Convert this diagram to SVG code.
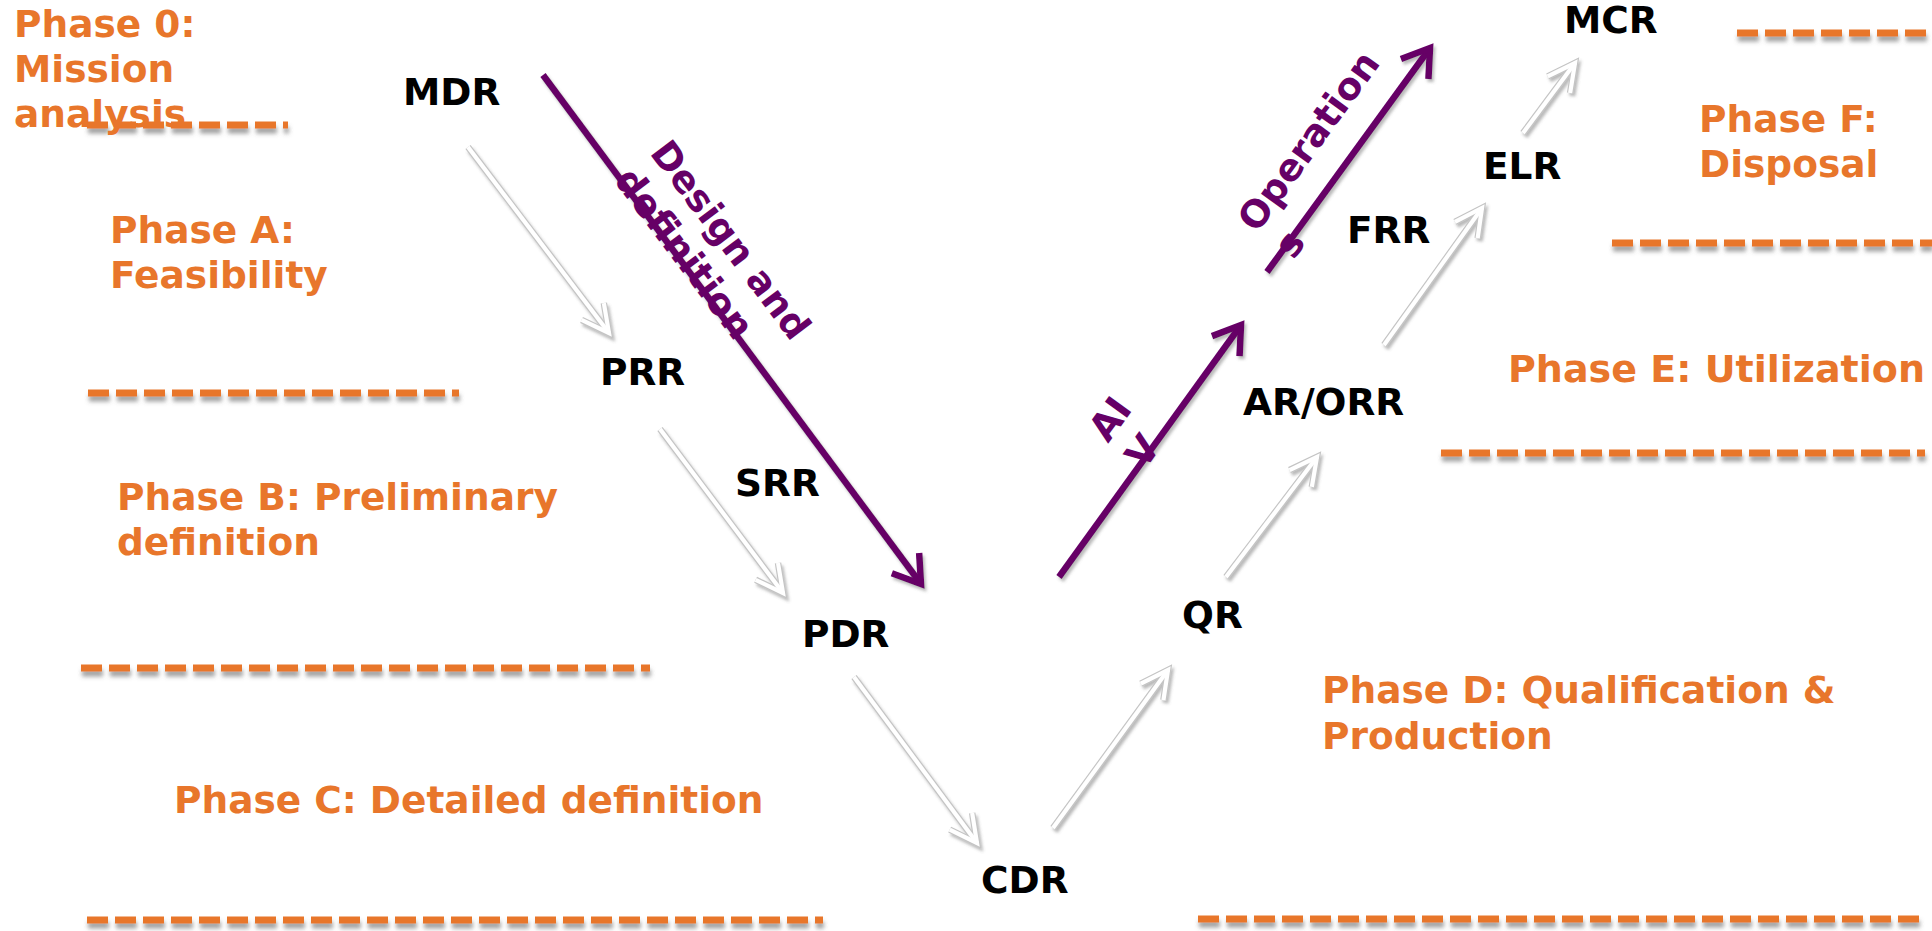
<svg xmlns="http://www.w3.org/2000/svg" width="1932" height="931" viewBox="0 0 1932 931">
  <style>
    text { font-family: "DejaVu Sans", Verdana, sans-serif; font-weight: bold; font-size: 37.5px; }
    .phase { fill: #E8762B; }
    .review { fill: #000; }
    .flow { fill: #660066; }
    .dash { stroke: #E8762B; stroke-width: 7; stroke-dasharray: 21 7; fill: none; }
    .w-under { stroke: #c4c4c4; stroke-width: 6.5; fill: none; marker-end: url(#headGrey); }
    .w-top { stroke: #ffffff; stroke-width: 4.2; fill: none; marker-end: url(#headWhite); }
    .purple { stroke: #660066; stroke-width: 6.5; fill: none; marker-end: url(#headPurple); }
  </style>
  <defs>
    <filter id="dashShadow" filterUnits="userSpaceOnUse" x="0" y="0" width="1932" height="931">
      <feGaussianBlur in="SourceAlpha" stdDeviation="2.2" result="b"/>
      <feOffset in="b" dx="1" dy="5" result="o"/>
      <feFlood flood-color="#555555" flood-opacity="0.55"/>
      <feComposite in2="o" operator="in" result="s"/>
      <feMerge><feMergeNode in="s"/><feMergeNode in="SourceGraphic"/></feMerge>
    </filter>
    <filter id="softShadow" filterUnits="userSpaceOnUse" x="0" y="0" width="1932" height="931">
      <feGaussianBlur in="SourceAlpha" stdDeviation="1.5" result="b"/>
      <feOffset in="b" dx="1.5" dy="2.5" result="o"/>
      <feFlood flood-color="#666666" flood-opacity="0.45"/>
      <feComposite in2="o" operator="in" result="s"/>
      <feMerge><feMergeNode in="s"/><feMergeNode in="SourceGraphic"/></feMerge>
    </filter>
    <marker id="headPurple" markerUnits="userSpaceOnUse" orient="auto" markerWidth="60" markerHeight="60" refX="0" refY="0" viewBox="-40 -30 60 60" overflow="visible">
      <path d="M-26,-17 L0,0 L-26,17" fill="none" stroke="#660066" stroke-width="6.5" stroke-linejoin="miter"/>
    </marker>
    <marker id="headGrey" markerUnits="userSpaceOnUse" orient="auto" markerWidth="60" markerHeight="60" refX="0" refY="0" viewBox="-40 -30 60 60" overflow="visible">
      <path d="M-27,-14 L0,0 L-27,14" fill="none" stroke="#c4c4c4" stroke-width="6.5" stroke-linejoin="miter"/>
    </marker>
    <marker id="headWhite" markerUnits="userSpaceOnUse" orient="auto" markerWidth="60" markerHeight="60" refX="0" refY="0" viewBox="-40 -30 60 60" overflow="visible">
      <path d="M-27,-14 L0,0 L-27,14" fill="none" stroke="#ffffff" stroke-width="4.2" stroke-linejoin="miter"/>
    </marker>
    <!-- review-to-review steps -->
    <line id="e1" x1="468" y1="147" x2="609" y2="333"/>
    <line id="e2" x1="660" y1="429" x2="783" y2="593"/>
    <line id="e3" x1="854" y1="677" x2="977" y2="843"/>
    <line id="e4" x1="1053" y1="828" x2="1168" y2="670"/>
    <line id="e5" x1="1226" y1="577" x2="1317" y2="457"/>
    <line id="e6" x1="1384" y1="345" x2="1482" y2="208"/>
    <line id="e7" x1="1523" y1="133" x2="1575" y2="63"/>
  </defs>

  <rect x="0" y="0" width="1932" height="931" fill="#ffffff"/>

  <!-- phase boundaries -->
  <g id="phase-boundaries" filter="url(#dashShadow)">
    <line class="dash" x1="87" y1="125" x2="288" y2="125"/>
    <line class="dash" x1="88" y1="393" x2="459" y2="393"/>
    <line class="dash" x1="81" y1="668" x2="650" y2="668"/>
    <line class="dash" x1="87" y1="920" x2="823" y2="920"/>
    <line class="dash" x1="1198" y1="919" x2="1921" y2="919"/>
    <line class="dash" x1="1441" y1="453" x2="1925" y2="453"/>
    <line class="dash" x1="1612" y1="243" x2="1932" y2="243"/>
    <line class="dash" x1="1737" y1="33" x2="1932" y2="33"/>
  </g>

  <!-- phase labels -->
  <g id="phase-0"><text class="phase" x="14" y="37">Phase 0:<tspan x="14" y="82">Mission</tspan><tspan x="14" y="127">analysis</tspan></text></g>
  <g id="phase-a"><text class="phase" x="110" y="243">Phase A:<tspan x="110" y="288">Feasibility</tspan></text></g>
  <g id="phase-b"><text class="phase" x="117" y="510">Phase B: Preliminary<tspan x="117" y="555">definition</tspan></text></g>
  <g id="phase-c"><text class="phase" x="174" y="813">Phase C: Detailed definition</text></g>
  <g id="phase-d"><text class="phase" x="1322" y="703">Phase D: Qualification &amp;<tspan x="1322" y="749">Production</tspan></text></g>
  <g id="phase-e"><text class="phase" x="1508" y="382" textLength="417" lengthAdjust="spacingAndGlyphs">Phase E: Utilization</text></g>
  <g id="phase-f"><text class="phase" x="1699" y="132">Phase F:<tspan x="1699" y="177">Disposal</tspan></text></g>

  <!-- connectors -->
  <g id="connectors">
    <g id="review-steps" filter="url(#softShadow)">
      <use href="#e1" class="w-under"/><use href="#e1" class="w-top"/>
      <use href="#e2" class="w-under"/><use href="#e2" class="w-top"/>
      <use href="#e3" class="w-under"/><use href="#e3" class="w-top"/>
      <use href="#e4" class="w-under"/><use href="#e4" class="w-top"/>
      <use href="#e5" class="w-under"/><use href="#e5" class="w-top"/>
      <use href="#e6" class="w-under"/><use href="#e6" class="w-top"/>
      <use href="#e7" class="w-under"/><use href="#e7" class="w-top"/>
    </g>
    <g id="lifecycle-flows" filter="url(#softShadow)">
      <line class="purple" x1="543" y1="75" x2="921" y2="584"/>
      <line class="purple" x1="1059" y1="577" x2="1241" y2="325"/>
      <line class="purple" x1="1267" y1="272" x2="1430" y2="48"/>
    </g>
  </g>

  <!-- flow labels -->
  <g id="flow-design"><text class="flow" transform="translate(649,153) rotate(53)">Design and<tspan x="0" y="45">definition</tspan></text></g>
  <g id="flow-aiv"><text class="flow" transform="translate(1108,444) rotate(-54)">AI<tspan x="0" y="45">V</tspan></text></g>
  <g id="flow-operations"><text class="flow" transform="translate(1257,234) rotate(-54)">Operation<tspan x="0" y="45">s</tspan></text></g>

  <!-- reviews -->
  <g id="mdr"><text class="review" x="403" y="105">MDR</text></g>
  <g id="prr"><text class="review" x="600" y="385">PRR</text></g>
  <g id="srr"><text class="review" x="735" y="496">SRR</text></g>
  <g id="pdr"><text class="review" x="802" y="647">PDR</text></g>
  <g id="cdr"><text class="review" x="981" y="893">CDR</text></g>
  <g id="qr"><text class="review" x="1182" y="628">QR</text></g>
  <g id="ar-orr"><text class="review" x="1243" y="415">AR/ORR</text></g>
  <g id="frr"><text class="review" x="1347" y="243">FRR</text></g>
  <g id="elr"><text class="review" x="1483" y="179">ELR</text></g>
  <g id="mcr"><text class="review" x="1564" y="33">MCR</text></g>
</svg>
